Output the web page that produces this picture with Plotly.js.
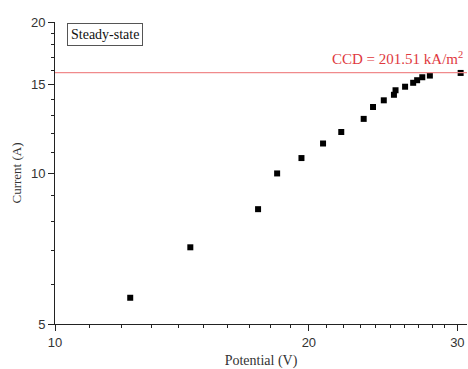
<!DOCTYPE html>
<html>
<head>
<meta charset="utf-8">
<script src="https://cdn.plot.ly/plotly-3.0.1.min.js"></script>
<style>html,body{margin:0;padding:0;background:#fff;}#chart{width:468px;height:369px;}</style>
</head>
<body>
<div id="chart"></div>
<script>
const potential = [12.28, 14.47, 17.41, 18.34, 19.60, 20.79, 21.85, 23.23, 23.83, 24.54, 25.23, 25.34, 26.01, 26.59, 26.88, 27.26, 27.83, 30.27];
const current   = [5.64, 7.11, 8.47, 9.98, 10.71, 11.45, 12.07, 12.82, 13.54, 13.96, 14.32, 14.62, 14.86, 15.13, 15.31, 15.52, 15.64, 15.83];
const ccdCurrent = 15.85;
const ccdLabel = 'CCD = 201.51 kA/m<sup>2</sup>';
const legendLabel = 'Steady-state';
const xTickVals = [10, 20, 30];
const xMinorVals = [11, 12, 13, 14, 15, 16, 17, 18, 19, 21, 22, 23, 24, 25, 26, 27, 28, 29, 31];
const yTickVals = [5, 10, 15, 20];
const yMinorVals = [6, 7, 8, 9, 11, 12, 13, 14, 16, 17, 18, 19];

const serif = 'Liberation Serif, Times New Roman, serif';
const sans = 'Liberation Sans, Arial, sans-serif';

const trace = {
  x: potential, y: current, type: 'scatter', mode: 'markers',
  marker: {symbol: 'square', size: 6, color: '#000'},
  showlegend: false, hoverinfo: 'skip'
};

const layout = {
  width: 468, height: 369,
  margin: {l: 55, r: 1, t: 22, b: 45},
  paper_bgcolor: '#fff', plot_bgcolor: '#fff',
  showlegend: false,
  xaxis: {
    type: 'log', range: [1, Math.log10(30.8)],
    tickmode: 'array', tickvals: xTickVals, ticktext: xTickVals.map(String),
    ticks: 'outside', ticklen: 6, tickwidth: 1, tickcolor: '#222',
    minor: {tickmode: 'array', tickvals: xMinorVals, ticks: 'outside', ticklen: 3, tickcolor: '#222', showgrid: false},
    showline: true, linecolor: '#222', linewidth: 1, mirror: false,
    showgrid: false, zeroline: false,
    tickfont: {family: sans, size: 13, color: '#333'},
    title: {text: 'Potential (V)', font: {family: serif, size: 14, color: '#333'}, standoff: 12}
  },
  yaxis: {
    type: 'log', range: [Math.log10(5), Math.log10(20)],
    tickmode: 'array', tickvals: yTickVals, ticktext: yTickVals.map(String),
    ticks: 'outside', ticklen: 6, tickwidth: 1, tickcolor: '#222',
    minor: {tickmode: 'array', tickvals: yMinorVals, ticks: 'outside', ticklen: 3, tickcolor: '#222', showgrid: false},
    showline: true, linecolor: '#222', linewidth: 1, mirror: false,
    showgrid: false, zeroline: false,
    tickfont: {family: sans, size: 13, color: '#333'},
    title: {text: 'Current (A)', font: {family: serif, size: 13, color: '#333'}, standoff: 6}
  },
  shapes: [{
    type: 'line', xref: 'paper', x0: 0, x1: 1, yref: 'y', y0: ccdCurrent, y1: ccdCurrent,
    line: {color: '#f08a8c', width: 1.2}
  }],
  annotations: [
    {xref: 'paper', yref: 'paper', x: 0.03, y: 1.0, xanchor: 'left', yanchor: 'top', yshift: -1,
     text: legendLabel, showarrow: false, font: {family: serif, size: 14, color: '#111'},
     bordercolor: '#555', borderwidth: 1, borderpad: 3, bgcolor: '#fff'},
    {xref: 'paper', yref: 'y', x: 0.995, y: Math.log10(ccdCurrent), xanchor: 'right', yanchor: 'bottom', yshift: 4,
     text: ccdLabel, showarrow: false, font: {family: serif, size: 15, color: '#e0393e'}}
  ]
};

Plotly.newPlot('chart', [trace], layout, {displayModeBar: false, staticPlot: true});
</script>
</body>
</html>
